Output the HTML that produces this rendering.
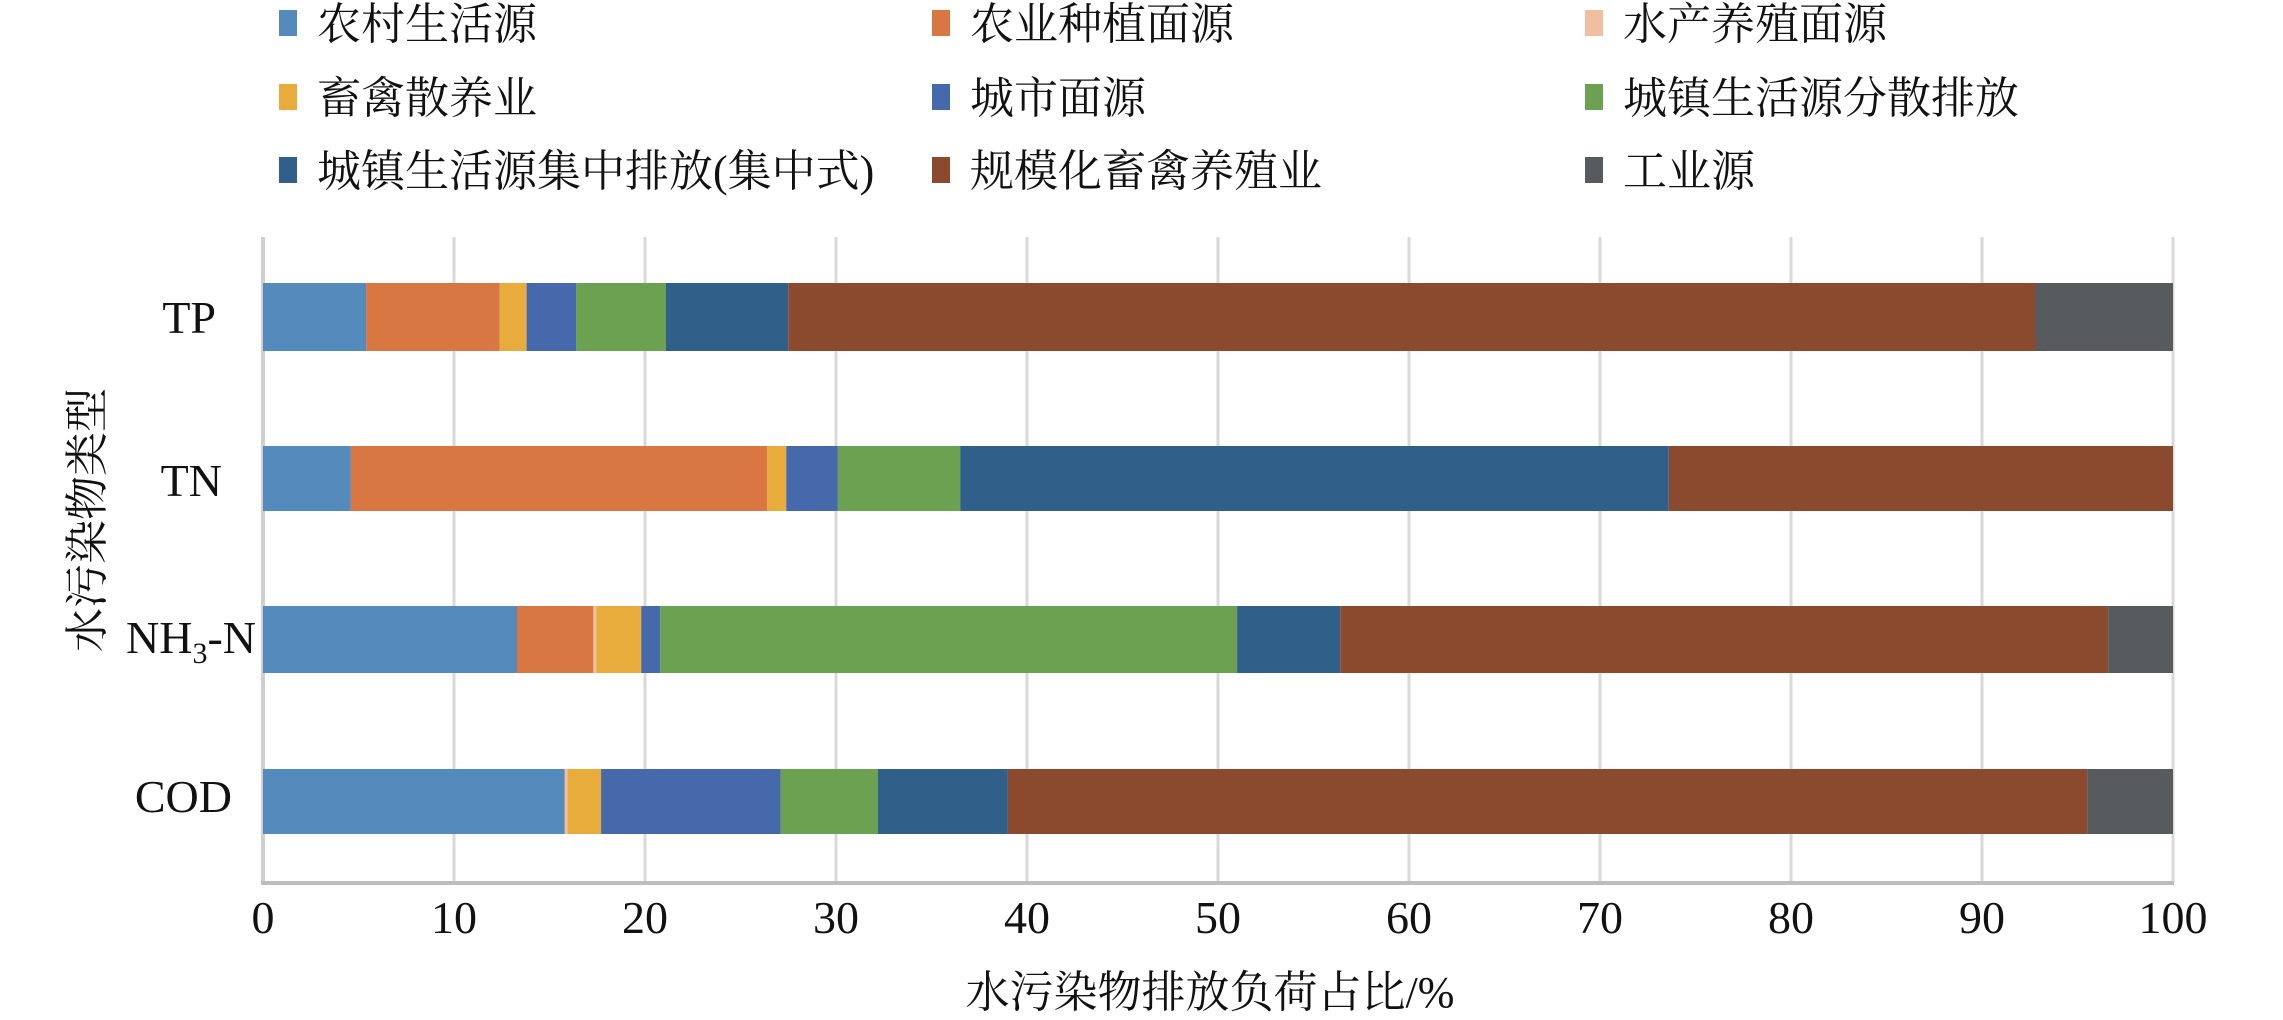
<!DOCTYPE html>
<html><head><meta charset="utf-8"><style>
html,body{margin:0;padding:0;background:#fff;}
svg{display:block;}
text{font-family:"Liberation Serif","Noto Serif CJK SC","Noto Sans CJK SC",serif;fill:#111;}
</style></head><body>
<svg width="2283" height="1020" viewBox="0 0 2283 1020" xmlns="http://www.w3.org/2000/svg">
<rect width="2283" height="1020" fill="#fff"/>
<g font-size="44">
<rect x="279" y="10" width="18" height="26" fill="#558ABD"/><text x="317" y="39">农村生活源</text>
<rect x="932" y="10" width="18" height="26" fill="#D87742"/><text x="970" y="39">农业种植面源</text>
<rect x="1585" y="10" width="18" height="26" fill="#F0BFA0"/><text x="1623" y="39">水产养殖面源</text>
<rect x="279" y="84" width="18" height="26" fill="#E8AC3C"/><text x="317" y="113">畜禽散养业</text>
<rect x="932" y="84" width="18" height="26" fill="#4569AB"/><text x="970" y="113">城市面源</text>
<rect x="1585" y="84" width="18" height="26" fill="#6CA151"/><text x="1623" y="113">城镇生活源分散排放</text>
<rect x="279" y="157" width="18" height="26" fill="#305F8A"/><text x="317" y="186">城镇生活源集中排放(集中式)</text>
<rect x="932" y="157" width="18" height="26" fill="#8B4A2E"/><text x="970" y="186">规模化畜禽养殖业</text>
<rect x="1585" y="157" width="18" height="26" fill="#575B5E"/><text x="1623" y="186">工业源</text>
</g>
<g stroke="#d9d9d9" stroke-width="3">
<line x1="454" y1="237" x2="454" y2="883"/><line x1="645" y1="237" x2="645" y2="883"/>
<line x1="836" y1="237" x2="836" y2="883"/><line x1="1027" y1="237" x2="1027" y2="883"/>
<line x1="1218" y1="237" x2="1218" y2="883"/><line x1="1409" y1="237" x2="1409" y2="883"/>
<line x1="1600" y1="237" x2="1600" y2="883"/><line x1="1791" y1="237" x2="1791" y2="883"/>
<line x1="1982" y1="237" x2="1982" y2="883"/><line x1="2173" y1="237" x2="2173" y2="883"/>
</g>
<line x1="263" y1="237" x2="263" y2="884" stroke="#cfcfcf" stroke-width="4"/>
<line x1="261" y1="883" x2="2174" y2="883" stroke="#bdbdbd" stroke-width="4"/>
<g>
<rect x="263" y="283" width="103.1" height="68" fill="#558ABD"/>
<rect x="366.1" y="283" width="133.7" height="68" fill="#D87742"/>
<rect x="499.8" y="283" width="26.8" height="68" fill="#E8AC3C"/>
<rect x="526.6" y="283" width="49.7" height="68" fill="#4569AB"/>
<rect x="576.2" y="283" width="89.8" height="68" fill="#6CA151"/>
<rect x="666" y="283" width="122.3" height="68" fill="#305F8A"/>
<rect x="788.3" y="283" width="1247.2" height="68" fill="#8B4A2E"/>
<rect x="2035.5" y="283" width="137.5" height="68" fill="#575B5E"/>

<rect x="263" y="446" width="87.9" height="65" fill="#558ABD"/>
<rect x="350.9" y="446" width="416.4" height="65" fill="#D87742"/>
<rect x="767.2" y="446" width="19.1" height="65" fill="#E8AC3C"/>
<rect x="786.3" y="446" width="51.6" height="65" fill="#4569AB"/>
<rect x="837.9" y="446" width="122.3" height="65" fill="#6CA151"/>
<rect x="960.2" y="446" width="708.6" height="65" fill="#305F8A"/>
<rect x="1668.8" y="446" width="504.2" height="65" fill="#8B4A2E"/>

<rect x="263" y="606" width="254" height="67" fill="#558ABD"/>
<rect x="517" y="606" width="76.4" height="67" fill="#D87742"/>
<rect x="593.4" y="606" width="3" height="67" fill="#F0BFA0"/>
<rect x="596.3" y="606" width="44.9" height="67" fill="#E8AC3C"/>
<rect x="641.2" y="606" width="19.1" height="67" fill="#4569AB"/>
<rect x="660.3" y="606" width="576.8" height="67" fill="#6CA151"/>
<rect x="1237.1" y="606" width="103.1" height="67" fill="#305F8A"/>
<rect x="1340.2" y="606" width="767.9" height="67" fill="#8B4A2E"/>
<rect x="2108.1" y="606" width="64.9" height="67" fill="#575B5E"/>

<rect x="263" y="769" width="301.8" height="65" fill="#558ABD"/>
<rect x="564.8" y="769" width="3" height="65" fill="#F0BFA0"/>
<rect x="567.6" y="769" width="33.5" height="65" fill="#E8AC3C"/>
<rect x="601.1" y="769" width="179.5" height="65" fill="#4569AB"/>
<rect x="780.6" y="769" width="97.4" height="65" fill="#6CA151"/>
<rect x="878" y="769" width="129.9" height="65" fill="#305F8A"/>
<rect x="1007.9" y="769" width="1079.2" height="65" fill="#8B4A2E"/>
<rect x="2087.1" y="769" width="85.9" height="65" fill="#575B5E"/>
</g>
<g font-size="46" text-anchor="end">
<text x="216" y="333">TP</text>
<text x="222" y="496">TN</text>
<text x="256" y="653">NH<tspan font-size="30" dy="10">3</tspan><tspan dy="-10">-N</tspan></text>
<text x="232" y="812">COD</text>
</g>
<g font-size="46" text-anchor="middle">
<text x="263" y="933">0</text><text x="454" y="933">10</text><text x="645" y="933">20</text>
<text x="836" y="933">30</text><text x="1027" y="933">40</text><text x="1218" y="933">50</text>
<text x="1409" y="933">60</text><text x="1600" y="933">70</text><text x="1791" y="933">80</text>
<text x="1982" y="933">90</text><text x="2173" y="933">100</text>
</g>
<text x="1210" y="1007" font-size="44" text-anchor="middle">水污染物排放负荷占比/%</text>
<text transform="translate(102,520) rotate(-90)" font-size="44" text-anchor="middle">水污染物类型</text>
</svg>
</body></html>
